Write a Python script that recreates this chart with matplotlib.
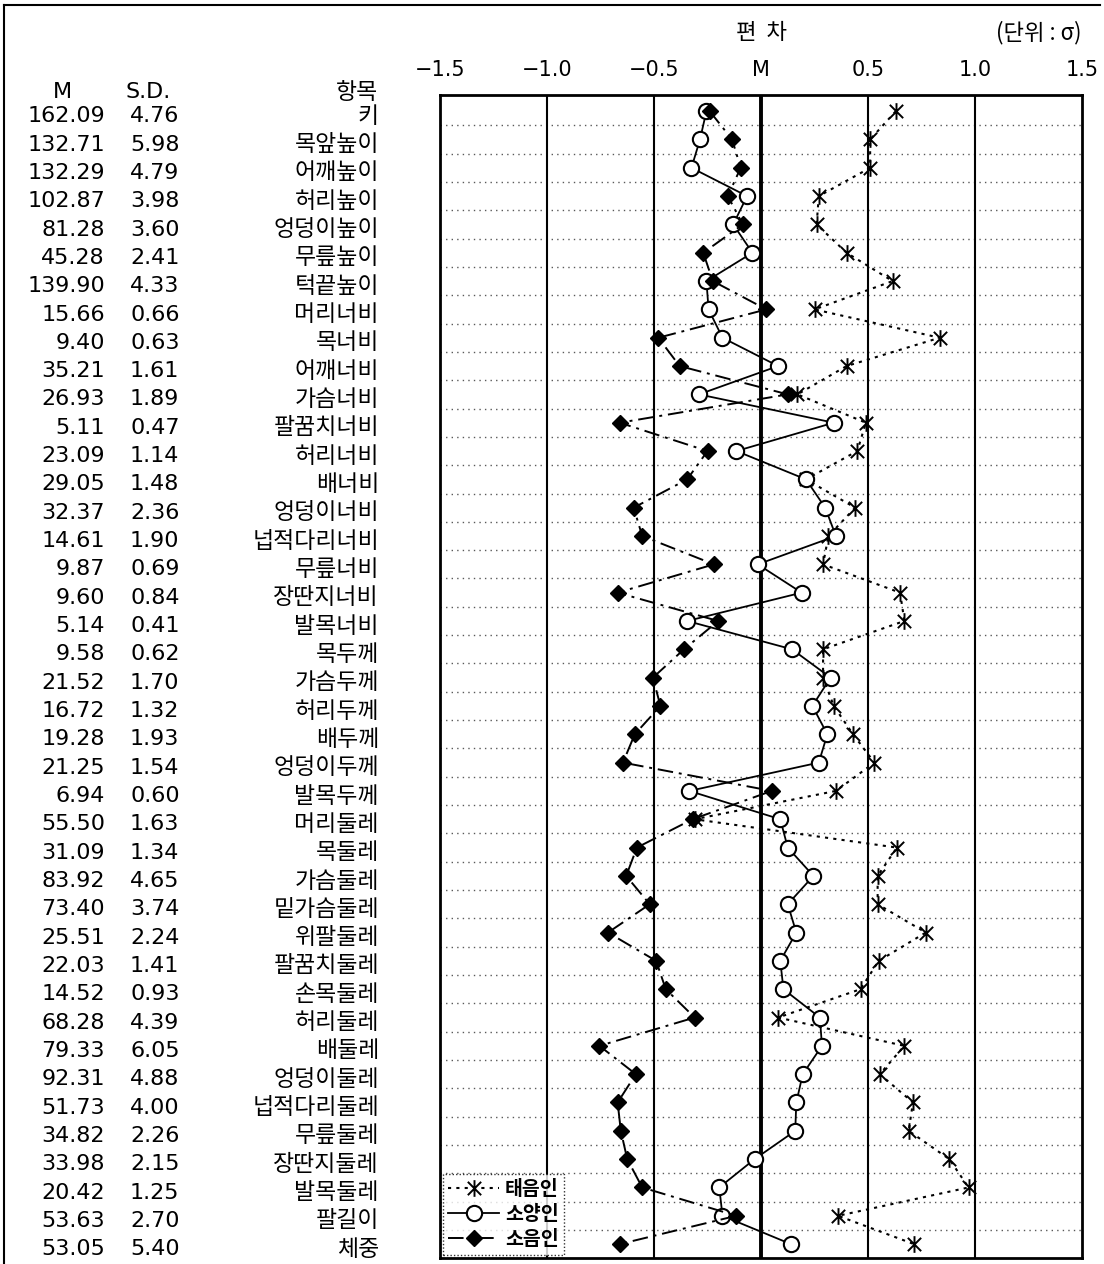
import numpy as np
import matplotlib
matplotlib.use('Agg')
import matplotlib.pyplot as plt
from matplotlib.lines import Line2D
from matplotlib.path import Path
from matplotlib.transforms import blended_transform_factory

# items (항목), mean and s.d. from the left table
items = ['키', '목앞높이', '어깨높이', '허리높이', '엉덩이높이', '무릎높이', '턱끝높이',
         '머리너비', '목너비', '어깨너비', '가슴너비', '팔꿈치너비', '허리너비', '배너비',
         '엉덩이너비', '넙적다리너비', '무릎너비', '장딴지너비', '발목너비', '목두께',
         '가슴두께', '허리두께', '배두께', '엉덩이두께', '발목두께', '머리둘레', '목둘레',
         '가슴둘레', '밑가슴둘레', '위팔둘레', '팔꿈치둘레', '손목둘레', '허리둘레', '배둘레',
         '엉덩이둘레', '넙적다리둘레', '무릎둘레', '장딴지둘레', '발목둘레', '팔길이', '체중']
means = ['162.09', '132.71', '132.29', '102.87', '81.28', '45.28', '139.90', '15.66', '9.40',
         '35.21', '26.93', '5.11', '23.09', '29.05', '32.37', '14.61', '9.87', '9.60', '5.14',
         '9.58', '21.52', '16.72', '19.28', '21.25', '6.94', '55.50', '31.09', '83.92', '73.40',
         '25.51', '22.03', '14.52', '68.28', '79.33', '92.31', '51.73', '34.82', '33.98',
         '20.42', '53.63', '53.05']
sds = ['4.76', '5.98', '4.79', '3.98', '3.60', '2.41', '4.33', '0.66', '0.63', '1.61', '1.89',
       '0.47', '1.14', '1.48', '2.36', '1.90', '0.69', '0.84', '0.41', '0.62', '1.70', '1.32',
       '1.93', '1.54', '0.60', '1.63', '1.34', '4.65', '3.74', '2.24', '1.41', '0.93', '4.39',
       '6.05', '4.88', '4.00', '2.26', '2.15', '1.25', '2.70', '5.40']

# deviations in sigma units
taeeum = [0.63, 0.51, 0.51, 0.27, 0.26, 0.40, 0.615, 0.25, 0.835, 0.40, 0.17, 0.49, 0.45,
          0.21, 0.44, 0.315, 0.29, 0.65, 0.67, 0.29, 0.29, 0.34, 0.43, 0.53, 0.35, -0.31,
          0.635, 0.545, 0.545, 0.77, 0.55, 0.465, 0.08, 0.67, 0.555, 0.71, 0.69, 0.88, 0.97,
          0.36, 0.715]
soyang = [-0.255, -0.285, -0.325, -0.065, -0.13, -0.04, -0.255, -0.245, -0.18, 0.08, -0.29,
          0.34, -0.115, 0.21, 0.30, 0.35, -0.015, 0.19, -0.345, 0.145, 0.325, 0.24, 0.31,
          0.27, -0.335, 0.09, 0.125, 0.245, 0.125, 0.165, 0.09, 0.105, 0.275, 0.285, 0.195,
          0.165, 0.16, -0.03, -0.195, -0.18, 0.14]
soeum = [-0.24, -0.135, -0.095, -0.155, -0.085, -0.27, -0.225, 0.025, -0.48, -0.38, 0.125,
         -0.66, -0.25, -0.345, -0.595, -0.555, -0.22, -0.67, -0.20, -0.36, -0.505, -0.47,
         -0.59, -0.645, 0.05, -0.32, -0.58, -0.63, -0.52, -0.715, -0.49, -0.445, -0.31,
         -0.755, -0.585, -0.67, -0.655, -0.625, -0.555, -0.115, -0.66]

xticks = [-1.5, -1.0, -0.5, 0, 0.5, 1.0, 1.5]
xticklabels = ['−1.5', '−1.0', '−0.5', 'M', '0.5', '1.0', '1.5']

kr = ['Noto Sans CJK KR', 'DejaVu Sans']
rows = np.arange(len(items))

# X with a vertical bar through it
star = Path([(-1, -1), (1, 1), (-1, 1), (1, -1), (0, -1.25), (0, 1.25)],
            [Path.MOVETO, Path.LINETO, Path.MOVETO, Path.LINETO, Path.MOVETO, Path.LINETO])

fig = plt.figure(figsize=(11.04, 12.64), dpi=100)
ax = fig.add_axes([440 / 1104, 6 / 1264, 642 / 1104, 1163 / 1264])

# row separators
for r in rows[:-1]:
    ax.axhline(r + 0.5, color='0.35', lw=1.0, ls=(0, (1, 3)), zorder=1)
# vertical reference lines
for t in xticks[1:-1]:
    ax.axvline(t, color='black', lw=2.8 if t == 0 else 1.5, zorder=2)

ax.plot(taeeum, rows, color='black', lw=1.5, ls=(0, (1.5, 2.5)), marker=star,
        ms=12, mew=1.4, label='태음인', zorder=3)
ax.plot(soyang, rows, color='black', lw=1.3, ls='-', marker='o', ms=11, mfc='white',
        mew=1.5, label='소양인', zorder=4)
ax.plot(soeum, rows, color='black', lw=1.4, ls=(0, (8, 3, 1.5, 3)), marker='D', ms=8,
        label='소음인', zorder=5)

ax.set_xlim(-1.5, 1.5)
ax.set_ylim(40.49, -0.57)
ax.set_yticks([])
ax.xaxis.tick_top()
ax.set_xticks(xticks, xticklabels)
ax.tick_params(axis='x', length=0, pad=11, labelsize=15)
for s in ax.spines.values():
    s.set_linewidth(2.0)

leg = ax.legend(loc='lower left', bbox_to_anchor=(0.004, 0.003),
                prop={'family': kr, 'size': 14, 'weight': 'bold'},
                fancybox=False, handlelength=2.6, handletextpad=0.3, borderpad=0.3,
                labelspacing=0.3, borderaxespad=0)
leg.get_frame().set_edgecolor('black')
leg.get_frame().set_linestyle((0, (1, 1.5)))
leg.get_frame().set_linewidth(1.0)

# titles above the ticks
ax.text(0.5, 1.054, '편  차', transform=ax.transAxes, ha='center', va='center',
        fontsize=16, family=kr, weight='medium')
ax.text(1.0, 1.054, '(단위 : σ)', transform=ax.transAxes, ha='right', va='center',
        fontsize=16, family=kr, weight='medium')

# left table
tr = blended_transform_factory(fig.transFigure, ax.transData)
off = 0.18
ax.text(62 / 1104, -0.85 + off, 'M', transform=tr, ha='center', va='center', fontsize=16, clip_on=False)
ax.text(148 / 1104, -0.85 + off, 'S.D.', transform=tr, ha='center', va='center', fontsize=16, clip_on=False)
ax.text(378 / 1104, -0.85 + off, '항목', transform=tr, ha='right', va='center', fontsize=16.5,
        family=kr, weight='medium', clip_on=False)
for r in rows:
    ax.text(105 / 1104, r + off, means[r], transform=tr, ha='right', va='center', fontsize=16,
            clip_on=False)
    ax.text(130 / 1104, r + off, sds[r], transform=tr, ha='left', va='center', fontsize=16,
            clip_on=False)
    ax.text(379 / 1104, r + off, items[r], transform=tr, ha='right', va='center', fontsize=16.5,
            family=kr, weight='medium', clip_on=False)

# outer frame lines (top and left)
fig.add_artist(Line2D([4 / 1104, 4 / 1104], [0, 1 - 5 / 1264], color='black', lw=1.5))
fig.add_artist(Line2D([4 / 1104, 1100 / 1104], [1 - 5 / 1264, 1 - 5 / 1264], color='black', lw=1.5))

fig.savefig('out.png', dpi=100)
